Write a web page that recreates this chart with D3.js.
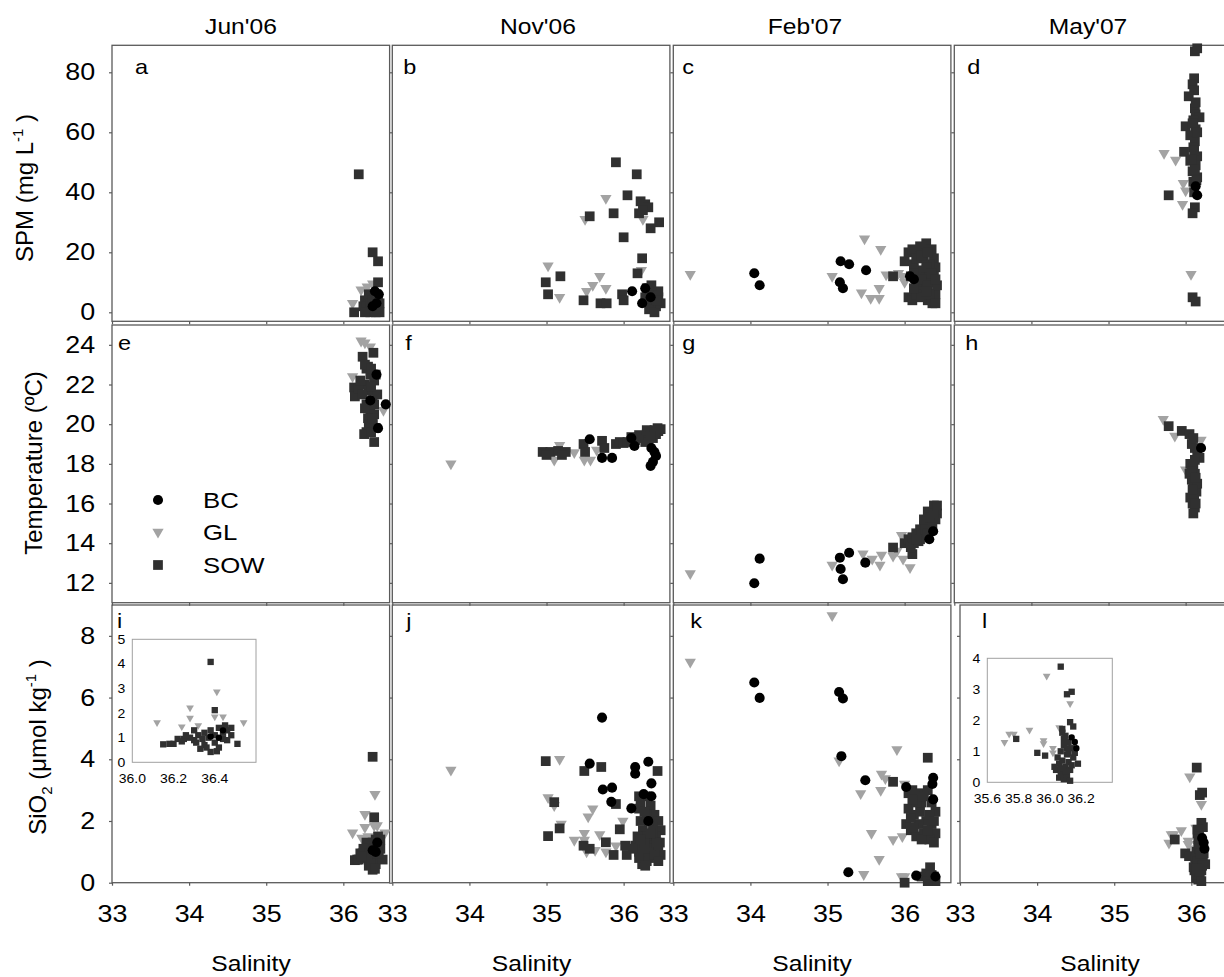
<!DOCTYPE html>
<html><head><meta charset="utf-8">
<script src="https://cdn.jsdelivr.net/npm/d3@7"></script>
<style>
body{margin:0;background:#fff}
svg{display:block}
text{font-family:"Liberation Sans",Arial,Helvetica,sans-serif;fill:#000}
</style>
</head><body>
<svg id="chart" width="1224" height="977"></svg>
<script>
// ---------------- categories / ticks ----------------
const months = ["Jun'06","Nov'06","Feb'07","May'07"];
const panelLetters = [["a","b","c","d"],["e","f","g","h"],["i","j","k","l"]];
const seriesNames = ["BC","GL","SOW"];
const salinityTicks = [33,34,35,36];
const spmTicks = [0,20,40,60,80];
const tempTicks = [12,14,16,18,20,22,24];
const sioTicks = [0,2,4,6,8];
const insetIXTicks = [36.0,36.2,36.4];
const insetIYTicks = [0,1,2,3,4,5];
const insetLXTicks = [35.6,35.8,36.0,36.2];
const insetLYTicks = [0,1,2,3,4];

// ---------------- data: [salinity, value] ----------------
// SPM (mg L-1)
const a_BC = [[36.41,7],[36.46,6],[36.43,3],[36.38,2]];
const a_GL = [[36.12,3],[36.23,7.5],[36.31,8.5],[36.38,9.5],[36.30,3],[36.40,1]];
const a_SOW = [[36.20,46],[36.38,20],[36.45,17],[36.45,10],[36.14,0],[36.28,4],[36.32,3],[36.36,5],[36.40,2],[36.44,1],[36.30,1],[36.35,0],[36.42,4],[36.47,3],[36.38,1],[36.33,6],[36.47,0],[36.26,2],[36.40,6],[36.45,5],[36.30,2],[36.35,3],[36.42,0],[36.28,0],[36.38,4],[36.43,6]];

const b_BC = [[36.11,7],[36.28,8],[36.24,3],[36.35,5]];
const b_GL = [[35.77,38],[35.50,31],[36.25,31],[35.02,15.5],[35.17,5],[35.69,12],[35.60,9],[35.77,8],[35.52,7],[36.23,14]];
const b_SOW = [[35.90,50],[36.17,46],[36.05,39],[36.22,37],[36.28,36],[36.32,35],[36.20,33],[36.25,34],[35.87,33],[35.56,32],[36.46,30],[36.35,28],[36.00,25],[36.24,18],[36.18,13],[35.18,12],[34.99,10],[35.02,6],[35.48,4],[35.70,3],[35.78,3],[35.98,6],[36.00,4],[36.30,8],[36.35,7],[36.40,6],[36.45,5],[36.30,4],[36.38,3],[36.42,2],[36.33,1],[36.40,0],[36.45,7],[36.48,3],[36.28,5],[36.36,9],[36.43,4]];

const c_BC = [[34.05,13],[34.12,9],[35.17,17],[35.28,16],[35.50,14],[35.16,10],[35.20,8],[36.07,12],[36.12,11]];
const c_GL = [[33.22,12.7],[35.06,12],[35.48,24.5],[35.69,21],[35.44,6.5],[35.56,4.7],[35.67,4.7],[35.67,8],[35.76,12.5],[35.92,13],[36.00,10],[35.97,12]];
const c_SOW = [[35.85,12],[36.00,17],[36.05,20],[36.10,21],[36.20,22],[36.28,23],[36.35,21],[36.38,18],[36.40,15],[36.30,12],[36.35,10],[36.25,8],[36.05,5],[36.10,4],[36.30,4],[36.40,6],[36.20,14],[36.15,10],[36.38,12],[36.42,9],[36.12,16],[36.33,16],[36.25,18],[36.18,7],[36.36,3],[36.08,12],[36.15,18],[36.22,19],[36.30,20],[36.12,13],[36.28,15],[36.35,13],[36.22,11],[36.30,9],[36.40,11],[36.15,6],[36.22,5],[36.32,6],[36.40,3],[36.28,7],[36.12,8]];

const d_BC = [[36.15,39],[36.13,42]];
const d_GL = [[35.72,53],[35.87,50.8],[35.97,43],[36.00,40.5],[35.96,36],[36.07,12.7]];
const d_SOW = [[36.12,87],[36.15,88],[36.11,78],[36.09,76],[36.11,74],[36.04,72],[36.12,68],[36.13,66],[36.18,65],[36.10,64],[36.00,62],[36.13,61],[36.06,59],[36.12,57],[36.10,55],[35.98,53.5],[36.15,52],[36.06,50.5],[36.13,49],[36.09,47],[36.15,45],[36.10,43.5],[35.78,39],[36.12,35],[36.09,33],[36.09,5],[36.13,3.6],[36.13,70],[36.09,63],[36.15,60],[36.11,54],[36.08,51],[36.12,47.5],[36.14,44],[36.11,40]];

// Temperature (ºC)
const e_BC = [[36.55,21.0],[36.43,22.5],[36.45,19.8],[36.35,21.2]];
const e_GL = [[36.23,24.2],[36.28,24.1],[36.35,23.9],[36.12,22.4],[36.52,20.7]];
const e_SOW = [[36.25,23.4],[36.39,23.6],[36.14,21.85],[36.15,21.4],[36.32,22.9],[36.30,22.8],[36.35,22.5],[36.40,22.2],[36.28,22.0],[36.33,21.7],[36.20,21.8],[36.25,21.5],[36.38,21.2],[36.30,21.0],[36.35,20.7],[36.40,20.5],[36.32,20.3],[36.38,20.0],[36.42,19.8],[36.30,19.6],[36.27,19.5],[36.40,19.1],[36.44,21.5],[36.42,22.5],[36.28,23.0],[36.36,22.8],[36.22,22.2],[36.36,21.9],[36.40,21.0],[36.33,20.0],[36.36,19.6],[36.28,20.8],[36.38,20.3]];

const f_BC = [[35.56,19.24],[35.72,18.3],[35.85,18.3],[36.10,19.3],[36.14,18.9],[36.36,18.8],[36.42,18.4],[36.35,17.9],[36.40,18.6],[36.38,18.1]];
const f_GL = [[33.76,18.0],[35.17,18.94],[35.10,18.2],[35.36,18.57],[35.49,18.2],[35.57,18.2],[35.65,18.7]];
const f_SOW = [[34.95,18.6],[35.05,18.6],[35.15,18.65],[35.25,18.6],[35.00,18.45],[35.20,18.45],[35.48,19.0],[35.50,18.6],[35.72,19.16],[35.75,18.8],[35.90,19.0],[35.95,19.1],[36.00,19.05],[36.05,19.1],[36.10,19.15],[36.15,19.2],[36.20,19.3],[36.25,19.4],[36.30,19.5],[36.35,19.6],[36.40,19.7],[36.45,19.65],[36.48,19.75],[36.42,19.5],[36.38,19.3],[36.32,19.2],[36.28,19.1],[36.10,19.35],[36.20,19.45],[36.30,19.7],[36.40,19.5],[36.44,19.8],[36.35,19.4]];

const g_BC = [[34.12,13.22],[34.05,11.98],[35.16,13.27],[35.28,13.52],[35.49,13.02],[35.17,12.7],[35.20,12.18],[36.37,14.6],[36.32,14.2]];
const g_GL = [[33.22,12.47],[35.06,12.9],[35.46,13.47],[35.58,13.2],[35.68,12.9],[35.70,13.4],[35.85,13.35],[35.90,13.6],[36.07,12.77],[35.96,14.4],[35.98,13.2]];
const g_SOW = [[35.85,13.78],[36.10,13.45],[36.00,14.0],[36.05,14.2],[36.10,14.3],[36.15,14.5],[36.20,14.7],[36.25,14.9],[36.30,15.1],[36.35,15.4],[36.40,15.7],[36.38,15.9],[36.42,15.5],[36.32,14.8],[36.28,14.4],[36.20,14.2],[36.12,14.0],[36.08,13.8],[36.35,15.0],[36.40,15.2],[36.25,15.2],[36.30,15.6],[36.22,14.5],[36.18,14.1],[36.33,15.3],[36.38,15.5],[36.27,14.7],[36.15,14.2],[36.30,14.5],[36.36,14.8],[36.42,15.9]];

const h_BC = [[36.20,18.8]];
const h_GL = [[35.71,20.25],[35.86,19.4],[36.20,19.2],[36.00,17.7]];
const h_SOW = [[35.78,19.9],[35.95,19.66],[36.05,19.5],[36.10,19.3],[36.08,19.0],[36.12,18.8],[36.15,18.5],[36.18,18.3],[36.06,18.0],[36.10,17.8],[36.12,17.5],[36.08,17.2],[36.10,16.9],[36.14,16.6],[36.06,16.3],[36.09,16.0],[36.12,15.8],[36.10,15.5],[36.15,17.0],[36.05,17.5],[36.12,18.2],[36.08,17.6],[36.13,17.3],[36.09,16.7],[36.11,16.2],[36.13,16.0]];

// SiO2 (µmol kg-1)
const i_BC = [[36.42,1.0],[36.38,1.05],[36.44,1.3]];
const i_GL = [[36.41,2.87],[36.28,2.22],[36.28,1.8],[36.12,1.62],[36.24,1.45],[36.44,1.85],[36.40,1.85],[36.54,1.62],[36.32,1.5]];
const i_SOW = [[36.38,4.08],[36.40,2.12],[36.15,0.73],[36.18,0.75],[36.20,0.75],[36.22,0.95],[36.25,0.95],[36.28,1.0],[36.30,0.9],[36.32,1.1],[36.35,1.2],[36.38,1.3],[36.42,1.4],[36.45,1.5],[36.40,0.8],[36.42,0.6],[36.38,0.42],[36.46,0.9],[36.48,1.1],[36.35,0.7],[36.30,1.3],[36.44,1.2],[36.33,0.55],[36.51,0.75],[36.26,1.1],[36.34,0.95],[36.37,1.0],[36.40,1.1],[36.44,0.95],[36.31,0.8],[36.36,0.6],[36.41,0.45],[36.46,1.3],[36.48,1.4],[36.24,0.85]];

const j_BC = [[35.72,5.35],[35.56,3.86],[36.15,3.75],[36.15,3.53],[36.32,3.92],[36.36,3.22],[35.73,3.02],[35.85,3.08],[35.84,2.62],[36.10,2.41],[36.26,2.87],[36.36,2.8],[36.32,2.0]];
const j_GL = [[33.76,3.65],[35.17,4.0],[35.02,2.76],[35.10,2.5],[35.60,2.4],[35.54,2.14],[35.99,2.0],[35.19,1.9],[35.36,1.38],[35.49,1.6],[35.49,1.38],[35.69,1.56],[35.52,1.0],[35.63,1.05],[35.77,1.0],[35.90,1.2]];
const j_SOW = [[34.99,3.94],[35.49,3.62],[35.71,3.75],[36.44,3.62],[35.90,2.55],[35.10,2.61],[35.17,1.76],[35.02,1.51],[35.95,1.73],[35.48,1.2],[35.56,1.1],[35.77,1.31],[35.87,0.9],[36.04,0.9],[36.02,1.2],[36.20,2.8],[36.28,2.8],[36.35,2.5],[36.40,2.2],[36.45,2.0],[36.48,1.7],[36.20,2.4],[36.22,2.0],[36.25,1.7],[36.30,1.5],[36.35,1.3],[36.40,1.2],[36.45,1.0],[36.48,0.9],[36.15,1.2],[36.20,1.0],[36.25,0.8],[36.30,0.7],[36.35,0.9],[36.42,1.5],[36.38,1.8],[36.30,2.2],[36.18,1.5],[36.12,1.1],[36.28,1.0],[36.32,1.1],[36.47,1.3],[36.24,0.6],[36.22,2.6],[36.27,2.3],[36.33,2.0],[36.38,1.6],[36.43,1.3],[36.27,1.3],[36.22,1.4],[36.33,0.8],[36.40,0.9],[36.45,0.7],[36.20,0.8],[36.28,0.55],[36.35,1.6]];

const k_BC = [[34.05,6.49],[34.12,5.99],[35.15,6.18],[35.20,5.97],[35.18,4.1],[35.49,3.32],[36.02,3.1],[36.37,3.4],[36.36,3.2],[36.37,2.7],[35.27,0.34],[36.15,0.23],[36.40,0.2]];
const k_GL = [[33.22,7.15],[35.06,8.66],[35.15,3.95],[35.90,4.32],[35.70,3.52],[35.75,3.38],[35.69,3.0],[35.43,2.89],[36.00,3.2],[35.57,1.6],[35.85,1.4],[35.67,0.76],[35.97,1.5],[35.47,0.27],[35.96,0.2],[36.00,0.2]];
const k_SOW = [[35.85,3.27],[36.30,4.05],[36.05,2.9],[36.10,3.0],[36.20,2.9],[36.30,3.0],[36.35,2.6],[36.40,2.3],[36.05,2.4],[36.12,2.2],[36.20,2.3],[36.28,2.0],[36.35,1.9],[36.40,1.6],[36.02,1.9],[36.08,1.7],[36.15,1.5],[36.25,1.6],[36.32,1.4],[36.38,1.3],[36.18,1.9],[36.22,2.6],[36.00,0.0],[36.22,0.2],[36.28,0.3],[36.33,0.5],[36.38,0.2],[36.40,0.05],[36.30,0.05],[36.35,0.25],[36.08,2.1],[36.15,2.6],[36.25,2.8],[36.32,2.2],[36.38,2.0],[36.12,1.8],[36.22,1.4],[36.30,1.7],[36.10,2.7]];

const l_BC = [[36.14,1.45],[36.17,1.1],[36.16,1.3]];
const l_GL = [[35.98,3.43],[36.13,2.54],[36.06,1.77],[35.87,1.69],[35.77,1.56],[35.74,1.56],[35.71,1.29],[35.96,1.35],[35.96,1.25],[36.02,1.1],[36.02,0.95]];
const l_SOW = [[36.07,3.73],[36.11,2.84],[36.14,2.92],[36.13,1.94],[36.15,1.8],[36.08,1.72],[35.785,1.4],[35.92,0.95],[35.97,0.86],[36.08,1.6],[36.10,1.5],[36.12,1.3],[36.09,1.2],[36.14,1.1],[36.07,1.0],[36.11,0.9],[36.15,0.8],[36.05,0.8],[36.18,0.6],[36.06,0.6],[36.10,0.5],[36.13,0.4],[36.04,0.4],[36.08,0.3],[36.11,0.2],[36.06,0.15],[36.09,0.1],[36.12,0.65],[36.03,0.5],[36.16,0.95],[36.07,0.25],[36.13,0.05],[36.09,1.4],[36.11,1.1],[36.08,0.7],[36.12,0.95],[36.10,0.35],[36.14,0.55],[36.07,0.45]];

// ---------------- assemble ----------------
const panelData = [
  [{BC:a_BC,GL:a_GL,SOW:a_SOW},{BC:b_BC,GL:b_GL,SOW:b_SOW},{BC:c_BC,GL:c_GL,SOW:c_SOW},{BC:d_BC,GL:d_GL,SOW:d_SOW}],
  [{BC:e_BC,GL:e_GL,SOW:e_SOW},{BC:f_BC,GL:f_GL,SOW:f_SOW},{BC:g_BC,GL:g_GL,SOW:g_SOW},{BC:h_BC,GL:h_GL,SOW:h_SOW}],
  [{BC:i_BC,GL:i_GL,SOW:i_SOW},{BC:j_BC,GL:j_GL,SOW:j_SOW},{BC:k_BC,GL:k_GL,SOW:k_SOW},{BC:l_BC,GL:l_GL,SOW:l_SOW}]
];

// ---------------- layout ----------------
const svg = d3.select("#chart");
const SX = 1.12;               // horizontal text stretch of the original figure
const W = 277.6;
const colX = [[112,392.3,673.3,954.3],[112,392.3,673.3,954.3],[112,392.3,673.3,960]];
const rows = [
  {domain:[-3,89], range:[321.3,45.3], ticks:spmTicks},
  {domain:[11,25], range:[602.7,325], ticks:tempTicks},
  {domain:[0,9],   range:[882.7,605], ticks:sioTicks}
];
const titleX = [241,538,805,1088];
const salX = [251,531.5,812,1100];
const letterDX = [[23,11,9,13],[6,13,9,11],[5,14,17,22]];
const letterY = [74,350,628];
const frameColor = "#5a5a5a";
const colors = {BC:"#000000", GL:"#a3a3a3", SOW:"#303030"};

function symPath(name, big){
  if(name==="BC") return d3.symbol().type(d3.symbolCircle).size(big?80:32)();
  if(name==="GL") return d3.symbol().type(d3.symbolTriangle).size(big?55:26)();
  return d3.symbol().type(d3.symbolSquare).size(big?95:40)();
}
function drawMarks(g, pts, name, x, y, big){
  const p = symPath(name, big);
  g.selectAll(null).data(pts).enter().append("path")
    .attr("d", p)
    .attr("transform", d => `translate(${x(d[0])},${y(d[1])})` + (name==="GL" ? " rotate(180)" : ""))
    .attr("fill", colors[name]);
}
function txt(g, x, y, s, size, anchor){
  return g.append("text")
    .attr("transform", `translate(${x},${y}) scale(${SX},1)`)
    .attr("font-size", size)
    .attr("text-anchor", anchor || "start")
    .text(s);
}

rows.forEach((row, r) => {
  for(let c=0;c<4;c++){
    const x0 = colX[r][c];
    const x = d3.scaleLinear().domain([33,36.6]).range([x0, x0+W]);
    const y = d3.scaleLinear().domain(row.domain).range(row.range);
    const g = svg.append("g");

    // frame
    g.append("rect").attr("x", x0).attr("y", row.range[1])
      .attr("width", W).attr("height", row.range[0]-row.range[1])
      .attr("fill","none").attr("stroke", frameColor).attr("stroke-width",1.3);

    // y axis
    const ya = d3.axisLeft(y).tickValues(row.ticks).tickSize(3).tickSizeOuter(0).tickPadding(12)
      .tickFormat(c>0 ? "" : d3.format("d"));
    const yg = g.append("g").attr("transform",`translate(${x0},0)`).call(ya);
    yg.attr("font-size",null).attr("font-family",null);
    yg.select(".domain").remove();
    yg.selectAll("line").attr("stroke", frameColor).attr("stroke-width",1.2);
    yg.selectAll("text").style("font-size","24px")
      .attr("fill","#000").attr("transform",`scale(${SX},1)`);

    // x axis
    const xa = d3.axisBottom(x).tickValues(salinityTicks).tickSize(3).tickSizeOuter(0).tickPadding(19)
      .tickFormat(r<2 ? "" : d3.format("d"));
    const xg = g.append("g").attr("transform",`translate(0,${row.range[0]})`).call(xa);
    xg.attr("font-size",null).attr("font-family",null);
    xg.select(".domain").remove();
    xg.selectAll("line").attr("stroke", frameColor).attr("stroke-width",1.2);
    xg.selectAll("text").style("font-size","24px")
      .attr("fill","#000").attr("transform",`scale(${SX},1)`);

    // marks
    const d = panelData[r][c];
    ["GL","SOW","BC"].forEach(n => drawMarks(g, d[n], n, x, y, true));

    // panel letter
    txt(g, x0 + letterDX[r][c], letterY[r], panelLetters[r][c], 21, "start");
  }
});

// column titles and x labels
months.forEach((m,i) => {
  txt(svg, titleX[i], 34, m, 22, "middle");
  txt(svg, salX[i], 971, "Salinity", 22, "middle");
});

// y-axis labels (rotated)
function ylabel(x, y, parts){
  const t = svg.append("text").attr("transform",`translate(${x},${y}) rotate(-90)`)
    .attr("text-anchor","middle").style("font-size","24px");
  parts.forEach(p => {
    const ts = t.append("tspan").text(p.t);
    if(p.sup){ ts.style("font-size","15px").attr("dy",-10); }
    if(p.sub){ ts.style("font-size","15px").attr("dy",6); }
    if(p.back) ts.attr("dy", p.back);
  });
}
ylabel(33, 188, [{t:"SPM (mg L"},{t:"-1",sup:true},{t:" )",back:10}]);
ylabel(42, 463, [{t:"Temperature (ºC)"}]);
ylabel(46, 747, [{t:"SiO"},{t:"2",sub:true},{t:" (μmol kg",back:-6},{t:"-1",sup:true},{t:" )",back:10}]);

// legend in panel e
const legY = [500,532,565];
seriesNames.forEach((n,i) => {
  const p = symPath(n, true);
  svg.append("path").attr("d", p)
    .attr("transform", `translate(158,${legY[i]})` + (n==="GL" ? " rotate(180)" : ""))
    .attr("fill", colors[n]);
  txt(svg, 203, legY[i]+8, n, 23, "start");
});

// insets
function inset(box, xd, yd, xt, yt, data){
  const x = d3.scaleLinear().domain(xd).range([box.x0, box.x1]);
  const y = d3.scaleLinear().domain(yd).range([box.y1, box.y0]);
  const g = svg.append("g");
  g.append("rect").attr("x",box.x0).attr("y",box.y0)
    .attr("width",box.x1-box.x0).attr("height",box.y1-box.y0)
    .attr("fill","#fff").attr("stroke","#a0a0a0").attr("stroke-width",1);
  ["GL","SOW","BC"].forEach(n => drawMarks(g, data[n], n, x, y, false));
  yt.forEach(v => txt(g, box.x0-7, y(v)+4.5, String(v), 12.5, "end"));
  xt.forEach(v => txt(g, x(v), box.y1+21, d3.format(".1f")(v), 12.5, "middle"));
}
inset({x0:132.3,x1:256,y0:639.3,y1:762.3},[36.0,36.6],[0,5],insetIXTicks,insetIYTicks,panelData[2][0]);
inset({x0:987.3,x1:1112.3,y0:658.3,y1:782.3},[35.6,36.4],[0,4],insetLXTicks,insetLYTicks,panelData[2][3]);
</script>
</body></html>
